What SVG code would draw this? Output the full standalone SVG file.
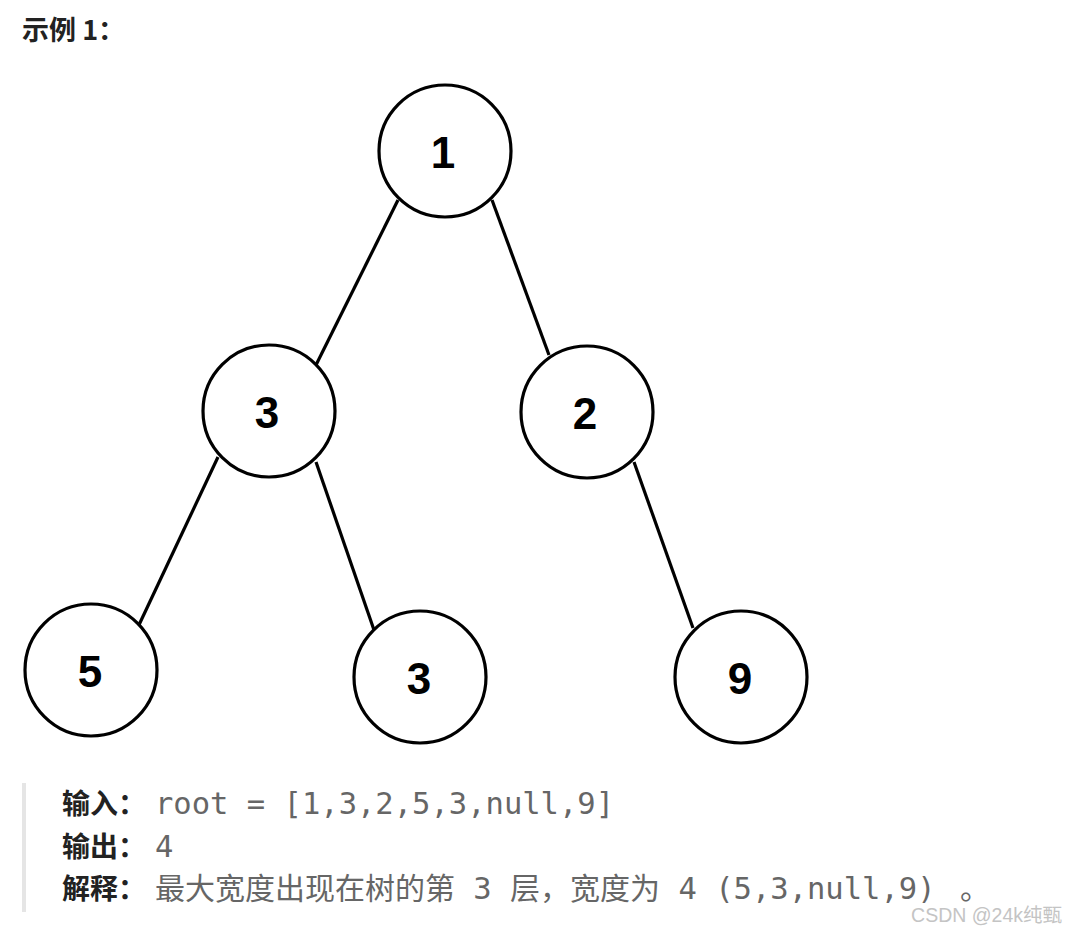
<svg xmlns="http://www.w3.org/2000/svg" width="1067" height="933" viewBox="0 0 1067 933">
<style>
.node circle{fill:#fff;stroke:#000;stroke-width:3.2}
.node text{font-family:"Liberation Sans",Arial,sans-serif;font-weight:bold;font-size:44px;fill:#000;text-anchor:middle}
.edges line{stroke:#000;stroke-width:3.2}
.lbl{font-family:"Noto Sans CJK SC",sans-serif;font-weight:bold;fill:#222}
.val{font-family:"DejaVu Sans Mono","Noto Sans CJK SC",monospace;fill:#666}
.cjk{font-family:"Noto Sans CJK SC",sans-serif;fill:#666}
</style>
<rect width="1067" height="933" fill="#fff"/>
<text x="22" y="40" class="lbl" font-size="27">示例 1：</text>
<g class="edges">
<line x1="398" y1="200" x2="316" y2="365"/>
<line x1="492" y1="200" x2="549" y2="355"/>
<line x1="218" y1="457" x2="138" y2="627"/>
<line x1="316" y1="462" x2="374" y2="630"/>
<line x1="634" y1="462" x2="693" y2="628"/>
</g>
<g id="n1" class="node"><circle cx="445" cy="151" r="66"/><text x="443" y="168">1</text></g>
<g id="n3a" class="node"><circle cx="269" cy="411" r="66"/><text x="267" y="428">3</text></g>
<g id="n2" class="node"><circle cx="587" cy="412" r="66"/><text x="585" y="429">2</text></g>
<g id="n5" class="node"><circle cx="91" cy="670" r="66"/><text x="90" y="687">5</text></g>
<g id="n3b" class="node"><circle cx="420" cy="677" r="66"/><text x="419" y="694">3</text></g>
<g id="n9" class="node"><circle cx="741" cy="677" r="66"/><text x="740" y="694">9</text></g>
<rect x="22" y="783" width="4" height="129" fill="#e5e5e5"/>
<text y="814" font-size="28"><tspan x="62" class="lbl">输入：</tspan><tspan x="155" class="val" font-size="30.5">root = [1,3,2,5,3,null,9]</tspan></text>
<text y="857" font-size="28"><tspan x="62" class="lbl">输出：</tspan><tspan x="155" class="val" font-size="30.5">4</tspan></text>
<text y="899" font-size="28"><tspan x="62" class="lbl">解释：</tspan><tspan x="155" class="cjk" font-size="30">最大宽度出现在树的第</tspan><tspan class="val" font-size="30.5"> 3 </tspan><tspan class="cjk" font-size="30">层，宽度为</tspan><tspan class="val" font-size="30.5"> 4 (5,3,null,9) </tspan><tspan class="cjk" font-size="30" dx="6">。</tspan></text>
<text x="1062" y="922" text-anchor="end" font-family="'Liberation Sans','Noto Sans CJK SC',sans-serif" font-size="19.5" fill="#c4c4c4">CSDN @24k纯甄</text>
</svg>
